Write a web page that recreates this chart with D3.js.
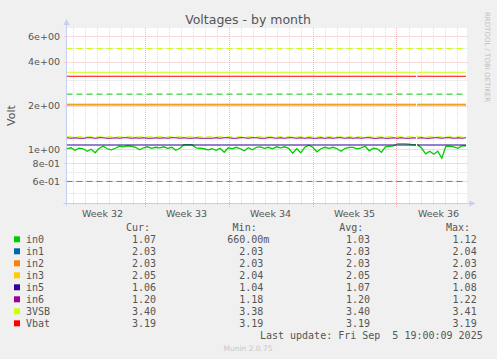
<!DOCTYPE html>
<html>
<head>
<meta charset="utf-8">
<script src="https://cdn.jsdelivr.net/npm/d3@7"></script>
<style>
  body { margin: 0; background: #f0f0f0; }
  svg { display: block; }
  text { font-family: 'DejaVu Sans', sans-serif; }
  .mono { font-family: 'DejaVu Sans Mono', monospace; white-space: pre; }
</style>
</head>
<body>
<script>
// data
const weekLabels = ['Week 32', 'Week 33', 'Week 34', 'Week 35', 'Week 36'];
const yMajorTicks = [0.6, 0.8, 1, 2, 4, 6];
const yMajorLabels = ['6e-01', '8e-01', '1e+00', '2e+00', '4e+00', '6e+00'];
const yMinorTicks = [0.5, 0.7, 0.9, 3, 5];

const seriesNames = ['in0', 'in1', 'in2', 'in3', 'in5', 'in6', '3VSB', 'Vbat'];
const seriesColors = ['#00cc00', '#0066b3', '#ff8000', '#ffcc00', '#330099', '#990099', '#ccff00', '#ff0000'];

const in0 = [
  1.01, 1.024, 0.984, 1.016, 1.008, 0.969, 1.0, 0.946, 1.016, 1.049,
  1.008, 0.992, 1.016, 1.049, 1.04, 1.057, 1.049, 1.032, 0.992, 1.024,
  1.04, 1.016, 1.032, 1.024, 1.04, 1.016, 1.032, 0.984, 1.016, 1.074,
  1.074, 1.074, 1.024, 1.016, 1.008, 0.992, 1.008, 0.984, 1.016, 0.953,
  1.024, 1.008, 1.032, 1.008, 0.976, 1.024, 0.992, 1.032, 1.04, 1.016,
  1.032, 1.008, 1.04, 1.024, 1.04, 1.016, 0.938, 1.008, 0.946, 1.032,
  1.066, 1.032, 0.961, 1.008, 1.032, 1.016, 1.032, 1.008, 0.969, 1.016,
  1.032, 1.032, 1.008, 1.024, 1.049, 0.976, 1.016, 1.008, 0.953, 1.04,
  1.049, 1.057, 1.091, 1.091, 1.091, 1.083, 1.074, 1.074, 1.016, 0.931,
  0.969, 0.924, 0.969, 0.867, 1.049, 1.049, 1.04, 1.016, 1.057, 1.057
];
const in1 = [2.03, 2.03, 2.03, 2.03, 2.03];
const in2 = [2.03, 2.03, 2.03, 2.03, 2.03];
const in3 = [2.05, 2.05, 2.05, 2.05, 2.05];
const in5 = [1.07, 1.07, 1.07, 1.07, 1.07];
const in6 = [
  1.20, 1.19, 1.20, 1.19, 1.19, 1.20, 1.20, 1.19, 1.20, 1.20,
  1.19, 1.19, 1.20, 1.19, 1.20, 1.20, 1.19, 1.20, 1.19, 1.20,
  1.19, 1.19, 1.20, 1.19, 1.20, 1.19, 1.20, 1.20, 1.19, 1.20,
  1.19, 1.19, 1.20, 1.19, 1.19, 1.19, 1.19, 1.20, 1.19, 1.20,
  1.20, 1.19, 1.19, 1.20, 1.20, 1.19, 1.20, 1.20, 1.19, 1.19,
  1.20, 1.20, 1.19, 1.20, 1.19, 1.20, 1.20, 1.19, 1.20, 1.19,
  1.20, 1.19, 1.19, 1.20, 1.19, 1.20, 1.19, 1.20, 1.20, 1.19,
  1.20, 1.19, 1.20, 1.19, 1.20, 1.20, 1.19, 1.19, 1.20, 1.19,
  1.19, 1.20, 1.19, 1.20, 1.19, 1.19, 1.20, 1.19, 1.20, 1.19,
  1.19, 1.20, 1.20, 1.19, 1.20, 1.20, 1.19, 1.20, 1.19, 1.20
];
const vsb3 = [3.40, 3.40, 3.40, 3.40, 3.40];
const vbat = [3.19, 3.19, 3.19, 3.19, 3.19];

// dashed limit lines
const in0Limits = [0.6, 2.4];
const vsbLimits = [1.22, 4.95];

// legend numbers
const curValues = ['1.07', '2.03', '2.03', '2.05', '1.06', '1.20', '3.40', '3.19'];
const minValues = ['660.00m', '2.03', '2.03', '2.04', '1.04', '1.18', '3.38', '3.19'];
const avgValues = ['1.03', '2.03', '2.03', '2.05', '1.07', '1.20', '3.40', '3.19'];
const maxValues = ['1.12', '2.04', '2.03', '2.06', '1.08', '1.22', '3.41', '3.19'];

// time range of the graph
const tStart = new Date(Date.UTC(2025, 7, 3, 12));
const tEnd = new Date(Date.UTC(2025, 8, 5, 20));
const tFirst = Date.UTC(2025, 7, 3, 13);
const tLast = Date.UTC(2025, 8, 5, 19);
const gap = [new Date(Date.UTC(2025, 8, 1, 15)), new Date(Date.UTC(2025, 8, 1, 17, 30))];

const makeGraph = () => {
  const width = 497;
  const height = 359;
  const plot = { left: 66.5, right: 466.5, top: 28, bottom: 203 };
  const textColor = '#555';
  const minorGrid = '#dcdcdc';
  const majorGrid = '#f0b4b4';
  const axisColor = '#c8cef2';

  const svg = d3.select('body').append('svg').attr('width', width).attr('height', height);
  svg.append('rect').attr('width', width).attr('height', height).attr('fill', '#f0f0f0');

  const x = d3.scaleUtc().domain([tStart, tEnd]).range([plot.left, plot.right]);
  const y = d3.scaleLog().domain([0.426, 6.86]).range([plot.bottom, plot.top]);

  // plot background
  svg.append('rect')
    .attr('x', plot.left + 0.5).attr('y', plot.top)
    .attr('width', plot.right - plot.left).attr('height', plot.bottom - plot.top)
    .attr('fill', '#ffffff');

  // title
  svg.append('text').text('Voltages - by month')
    .attr('x', 248).attr('y', 24)
    .attr('text-anchor', 'middle').attr('font-size', '12.5px').attr('fill', textColor);

  svg.append('text').text('RRDTOOL / TOBI OETIKER')
    .attr('transform', 'translate(485, 12) rotate(90)')
    .attr('font-size', '7px').attr('fill', '#c0c0c0');

  svg.append('text').text('Volt')
    .attr('transform', `translate(15, ${(plot.top + plot.bottom) / 2}) rotate(-90)`)
    .attr('text-anchor', 'middle').attr('font-size', '11px').attr('fill', textColor);

  // grid
  const grid = svg.append('g').attr('stroke-width', 1).attr('stroke-dasharray', '1,1');
  const weekStarts = d3.utcSunday.range(d3.utcSunday.floor(tStart), tEnd);
  const days = d3.utcDay.range(d3.utcDay.ceil(tStart), tEnd)
    .filter((d) => d.getUTCDay() !== 0);
  const weekLines = weekStarts.filter((d) => d > tStart);

  grid.selectAll('.hminor').data(yMinorTicks).enter().append('line')
    .attr('x1', plot.left + 1).attr('x2', plot.right + 1)
    .attr('y1', (d) => Math.round(y(d)) + 0.5).attr('y2', (d) => Math.round(y(d)) + 0.5)
    .attr('stroke', minorGrid);
  grid.selectAll('.vminor').data(days).enter().append('line')
    .attr('x1', (d) => Math.round(x(d)) + 0.5).attr('x2', (d) => Math.round(x(d)) + 0.5)
    .attr('y1', plot.top).attr('y2', plot.bottom + 2)
    .attr('stroke', minorGrid);
  grid.selectAll('.hmajor').data(yMajorTicks).enter().append('line')
    .attr('x1', plot.left - 2).attr('x2', plot.right + 2)
    .attr('y1', (d) => Math.round(y(d)) + 0.5).attr('y2', (d) => Math.round(y(d)) + 0.5)
    .attr('stroke', majorGrid);
  grid.selectAll('.vmajor').data(weekLines).enter().append('line')
    .attr('x1', (d) => Math.round(x(d)) + 0.5).attr('x2', (d) => Math.round(x(d)) + 0.5)
    .attr('y1', plot.top).attr('y2', plot.bottom + 4)
    .attr('stroke', majorGrid);

  // y tick labels
  svg.append('g').selectAll('text').data(yMajorTicks).enter().append('text')
    .text((d, i) => yMajorLabels[i])
    .attr('x', 60).attr('y', (d) => y(d) + 3.5)
    .attr('text-anchor', 'end').attr('font-size', '9.5px').attr('fill', textColor);

  // x week labels
  svg.append('g').selectAll('text').data(weekStarts).enter().append('text')
    .text((d, i) => weekLabels[i])
    .attr('x', (d) => x(d3.utcHour.offset(d, 84)))
    .attr('y', 216.5)
    .attr('text-anchor', 'middle').attr('font-size', '9.5px').attr('fill', textColor);

  // limit lines
  const limits = [
    { values: in0Limits, color: seriesColors[0] },
    { values: vsbLimits, color: seriesColors[6] },
  ];
  limits.forEach((l) => {
    svg.append('g').selectAll('line').data(l.values).enter().append('line')
      .attr('x1', plot.left).attr('x2', plot.right)
      .attr('y1', (d) => y(d)).attr('y2', (d) => y(d))
      .attr('stroke', l.color).attr('stroke-width', 1)
      .attr('stroke-dasharray', '6,4');
  });

  // clip leaving out the missing samples
  svg.append('clipPath').attr('id', 'dataclip')
    .selectAll('rect')
    .data([[tStart, gap[0]], [gap[1], tEnd]])
    .enter().append('rect')
    .attr('x', (d) => x(d[0])).attr('y', plot.top)
    .attr('width', (d) => x(d[1]) - x(d[0])).attr('height', plot.bottom - plot.top);

  const allValues = [in0, in1, in2, in3, in5, in6, vsb3, vbat];
  const toPoints = (vals) => vals.map((v, i) => ({
    t: new Date(tFirst + (i * (tLast - tFirst)) / (vals.length - 1)),
    v,
  }));

  const line = d3.line()
    .x((d) => x(d.t))
    .y((d) => y(d.v));

  svg.append('g').attr('clip-path', 'url(#dataclip)')
    .selectAll('path')
    .data(allValues.map(toPoints))
    .enter()
    .append('path')
    .attr('d', line)
    .attr('fill', 'none')
    .attr('stroke', (d, i) => seriesColors[i])
    .attr('stroke-width', (d, i) => (i === 0 ? 1.3 : 1.1));

  // axes with arrows
  const axis = svg.append('g').attr('stroke', axisColor).attr('stroke-width', 1);
  axis.append('line').attr('x1', plot.left).attr('x2', plot.left)
    .attr('y1', plot.bottom + 3).attr('y2', plot.top - 4);
  axis.append('line').attr('x1', plot.left - 3).attr('x2', plot.right + 4)
    .attr('y1', plot.bottom + 0.5).attr('y2', plot.bottom + 0.5);
  svg.append('path')
    .attr('d', `M${plot.left - 3},${plot.top - 3} L${plot.left},${plot.top - 9} L${plot.left + 3},${plot.top - 3} Z`)
    .attr('fill', axisColor);
  svg.append('path')
    .attr('d', `M${plot.right + 3},${plot.bottom - 2.5} L${plot.right + 9},${plot.bottom + 0.5} L${plot.right + 3},${plot.bottom + 3.5} Z`)
    .attr('fill', axisColor);

  // legend
  const legend = svg.append('g').attr('class', 'mono').attr('font-size', '10px').attr('fill', textColor);
  const rowY = (i) => 242.8 + i * 12;
  const headers = [['Cur:', 150], ['Min:', 256.7], ['Avg:', 363.3], ['Max:', 470]];
  headers.forEach((h) => {
    legend.append('text').attr('class', 'mono').text(h[0])
      .attr('x', h[1]).attr('y', 230.8).attr('text-anchor', 'end');
  });

  legend.selectAll('rect').data(seriesNames).enter().append('rect')
    .attr('x', 14).attr('y', (d, i) => rowY(i) - 6.5)
    .attr('width', 6).attr('height', 6)
    .attr('fill', (d, i) => seriesColors[i]);

  legend.selectAll('.name').data(seriesNames).enter().append('text')
    .attr('class', 'mono').text((d) => d)
    .attr('x', 26).attr('y', (d, i) => rowY(i));

  const columns = [[curValues, 162], [minValues, 269.3], [avgValues, 376], [maxValues, 482.7]];
  columns.forEach((c) => {
    legend.append('g').selectAll('text').data(c[0]).enter().append('text')
      .attr('class', 'mono')
      .text((d) => (/[a-zA-Z]$/.test(d) ? d : d + ' '))
      .attr('x', c[1]).attr('y', (d, i) => rowY(i))
      .attr('text-anchor', 'end');
  });

  legend.append('text').attr('class', 'mono')
    .text('Last update: Fri Sep  5 19:00:09 2025')
    .attr('x', 482.7).attr('y', rowY(8)).attr('text-anchor', 'end');

  svg.append('text').text('Munin 2.0.75')
    .attr('x', 248).attr('y', 350.5)
    .attr('text-anchor', 'middle').attr('font-size', '7.5px').attr('fill', '#c8c8c8');
};

makeGraph();
</script>
</body>
</html>
